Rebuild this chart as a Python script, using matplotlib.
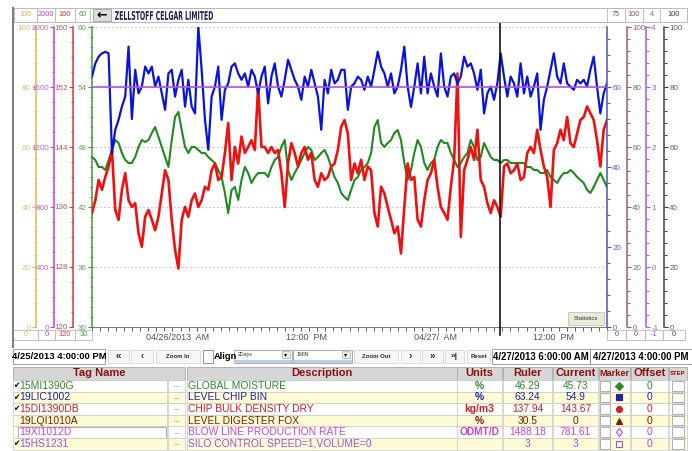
import numpy as np
import matplotlib.pyplot as plt
from matplotlib.patches import Rectangle, PathPatch
from matplotlib.lines import Line2D
from matplotlib.textpath import TextPath
from matplotlib.font_manager import FontProperties
from matplotlib.transforms import Affine2D, blended_transform_factory
from matplotlib.ticker import MultipleLocator, AutoMinorLocator

plt.rcParams['font.family'] = ['Liberation Sans', 'DejaVu Sans']
plt.rcParams['axes.unicode_minus'] = False


# Trend data, 4/25/2013 4:00 PM -> 4/27/2013 4:00 PM (hours from start)
global_moisture = [
    47.0, 46.7, 46.0, 46.0, 45.7, 46.7, 47.7, 48.7, 48.4, 47.4,
    46.7, 46.4, 46.4, 47.0, 48.0, 48.7, 48.5, 48.7, 49.4, 50.0,
    49.0, 48.0, 47.0, 46.0, 48.7, 51.0, 51.5, 49.7, 48.0, 47.4,
    48.0, 48.0, 47.7, 47.4, 47.4, 47.0, 46.7, 46.4, 45.7, 45.0,
    43.4, 41.4, 43.7, 44.0, 42.7, 44.7, 46.0, 45.4, 44.4, 45.0,
    45.4, 45.4, 45.4, 45.0, 46.0, 46.7, 47.0, 48.0, 48.7, 45.7,
    44.7, 45.4, 46.0, 46.7, 47.4, 48.0, 47.7, 46.7, 47.0, 47.4,
    47.7, 47.0, 46.0, 45.0, 44.4, 43.4,
    43.0, 42.7, 43.7, 44.7, 45.0, 45.7, 46.0, 46.4, 47.4, 50.0,
    50.7, 48.4, 48.0, 48.4, 48.7, 49.4, 49.7, 48.7, 46.4, 44.7,
    45.7, 47.4, 48.7, 48.0, 46.4, 45.7, 46.4, 46.7, 48.0, 48.7,
    48.4, 48.4, 47.4, 46.7, 46.0, 46.4, 47.0, 47.4, 48.7, 48.0,
    46.7, 47.0, 48.4, 47.7, 47.0, 46.7, 46.7, 46.4, 46.7, 46.7,
    46.4, 46.4, 46.4, 46.4, 46.4, 46.0, 46.0, 45.7, 45.7, 45.4,
    45.4, 45.7, 45.0, 44.7, 44.4, 45.0, 45.4, 45.4, 45.7, 45.4,
    45.0, 44.7, 44.4, 43.7, 43.4, 44.0, 44.7, 45.4, 44.7, 44.0,
]

chip_bin_level = [
    62.6, 65.9, 67.6, 68.4, 68.8, 68.4, 43.4, 49.3, 51.8, 55.1,
    57.6, 70.1, 52.0, 64.3, 58.4, 60.1, 65.1, 63.4, 65.1, 60.1,
    62.6, 58.4, 54.3, 63.4, 64.3, 57.6, 61.8, 64.3, 55.1, 61.8,
    55.1, 53.4, 75.1, 64.3, 51.8, 44.3, 57.6, 60.1, 65.1, 51.8,
    59.3, 60.9, 65.1, 65.9, 63.4, 61.8, 63.4, 60.1, 64.3, 62.6,
    58.4, 62.6, 65.1, 55.9, 62.6, 65.9, 60.1, 57.6, 61.8, 66.8,
    64.3, 61.8, 60.1, 56.8, 62.6, 60.1, 64.3, 60.9, 57.6, 49.3,
    61.8, 58.4, 64.3, 60.9, 61.8, 64.3,
    64.3, 54.3, 60.1, 60.9, 62.6, 61.8, 59.3, 62.6, 60.1, 64.3,
    68.8, 65.1, 63.4, 60.1, 63.4, 58.4, 60.1, 64.3, 70.1, 60.1,
    55.0, 60.1, 65.9, 58.4, 67.6, 58.4, 63.4, 60.1, 57.6, 68.4,
    60.1, 57.6, 62.6, 63.4, 60.9, 62.6, 67.6, 65.1, 65.9, 63.4,
    59.3, 64.3, 53.4, 58.4, 60.1, 56.8, 60.9, 68.4, 62.6, 57.6,
    62.6, 60.9, 57.6, 65.9, 58.4, 62.6, 57.6, 60.1, 63.4, 49.3,
    56.8, 60.1, 64.3, 68.4, 62.6, 60.9, 65.9, 60.9, 60.1, 59.3,
    61.8, 60.9, 61.8, 60.1, 64.3, 67.6, 60.1, 53.4, 58.4, 60.9,
]

bulk_density = [
    135.2, 136.9, 139.6, 138.3, 140.0, 141.4, 143.6, 135.6, 134.3, 138.3,
    140.5, 136.9, 136.0, 136.5, 132.5, 130.7, 134.7, 135.6, 134.3, 132.9,
    134.7, 137.8, 140.9, 139.6, 134.3, 130.3, 127.8, 134.3, 136.0, 134.7,
    136.9, 137.8, 136.0, 136.9, 138.7, 138.3, 140.9, 141.8, 139.6, 140.0,
    143.2, 147.2, 139.6, 144.0, 141.8, 145.4, 143.2, 144.0, 144.9, 143.6,
    152.0, 144.0, 144.0, 143.2, 144.0, 143.2, 143.6, 140.5, 136.0, 141.8,
    144.5, 143.2, 141.4, 143.2, 144.0, 142.3, 143.2, 139.6, 138.7, 140.5,
    139.6, 140.0, 141.4, 141.8, 143.6, 146.7,
    147.6, 145.8, 139.6, 141.8, 140.5, 142.3, 139.6, 141.4, 140.9, 135.2,
    133.4, 138.7, 137.8, 136.0, 134.3, 132.5, 133.4, 129.8, 136.0, 141.8,
    139.6, 140.0, 134.3, 133.4, 136.9, 139.6, 140.5, 142.3, 138.7, 136.0,
    135.2, 134.3, 138.7, 142.3, 153.8, 132.0, 140.9, 142.3, 144.0, 142.3,
    146.3, 139.6, 138.7, 136.5, 135.2, 136.9, 136.0, 134.7, 141.4, 141.8,
    140.5, 140.9, 141.8, 139.6, 140.0, 143.2, 144.0, 143.2, 146.3, 143.6,
    141.4, 140.0, 136.0, 143.6, 144.5, 146.3, 144.9, 148.0, 144.5, 144.0,
    145.8, 147.6, 148.0, 149.4, 148.5, 147.6, 144.9, 141.4, 146.3, 147.6,
]

silo_hours = [0, 48]
silo_speed = [3, 3]

ruler_hour = 38
time_labels = ["04/26/2013  AM", "12:00  PM", "04/27/  AM", "12:00  PM"]
time_label_hours = [8, 20, 32, 43]

# axis name, side, x pixel, min, max, major step, minor divisions, spine colour, label colour
axis_specs = [
    ("fox", "left", 36, 0, 100, 20, 5, "#e9b543", "#d8bd78"),
    ("blow", "left", 54, 0, 2000, 400, 4, "#d23cd2", "#c064d0"),
    ("density", "left", 73, 120, 160, 8, 4, "#d23a3a", "#a86060"),
    ("chipbin", "right", 607, 0, 75, 20, 5, "#4a55b5", "#5a64b8"),
    ("brown", "right", 627, 0, 100, 20, 5, "#9b6052", "#8a6a60"),
    ("silo", "right", 646, -1, 4, 1, 5, "#a659e6", "#9a60e0"),
    ("black", "right", 664, 0, 100, 20, 5, "#404040", "#606060"),
]
head_left = [("100", "#d9b25c"), ("2000", "#c040c0"), ("160", "#c04040"), ("60", "#4a9a4a")]
foot_left = [("0", "#d9b25c"), ("0", "#c040c0"), ("120", "#c04040"), ("30", "#4a9a4a")]
head_right = [("75", "#4a55b5"), ("100", "#8a5a50"), ("4", "#9a50e0"), ("100", "#404040")]
foot_right = [("0", "#4a55b5"), ("0", "#8a5a50"), ("-1", "#9a50e0"), ("0", "#404040")]

tags = ["15MI1390G", "19LIC1002", "15DI1390DB", "19LQI1010A", "19XI1012D", "15HS1231"]
descriptions = ["GLOBAL MOISTURE", "LEVEL CHIP BIN", "CHIP BULK DENSITY DRY",
                "LEVEL DIGESTER FOX", "BLOW LINE PRODUCTION RATE", "SILO CONTROL SPEED=1,VOLUME=0"]
units = ["%", "%", "kg/m3", "%", "ODMT/D", ""]
ruler_vals = ["46.29", "63.24", "137.94", "30.5", "1488.18", "3"]
current_vals = ["45.73", "54.9", "143.67", "0", "781.61", "3"]
checked = [True, True, True, False, False, True]
row_colors = ["#2a8a2a", "#2222a0", "#cc2222", "#7a2000", "#cc44cc", "#a050e0"]
row_markers = [("D", True), ("s", True), ("o", True), ("^", True), ("d", False), ("s", False)]


W, H = 692, 451
fig = plt.figure(figsize=(W / 100, H / 100), dpi=100)


def fx(x):
    return x / W


def fy(y):
    return 1 - y / H


def box(x0, y0, x1, y1, fc="white", ec="#b4b4b4", lw=0.6, z=2):
    r = Rectangle((fx(x0), fy(y1)), (x1 - x0) / W, (y1 - y0) / H, transform=fig.transFigure,
                  facecolor=fc, edgecolor=ec, linewidth=lw, zorder=z)
    fig.add_artist(r)
    return r


def txt(x, y, s, size=7, color="black", ha="center", weight="normal", **kw):
    return fig.text(fx(x), fy(y), s, fontsize=size, color=color, ha=ha, va="center",
                    fontweight=weight, zorder=4, **kw)


# main plot (green moisture axis)
ax = fig.add_axes([fx(92), fy(327), 515 / W, 300 / H])
ax.set_xlim(0, 48)
ax.set_ylim(30, 60)
ax.yaxis.set_major_locator(MultipleLocator(6))
ax.yaxis.set_minor_locator(AutoMinorLocator(6))
ax.yaxis.grid(True, color="#c8c8c8", linestyle=(0, (2, 2)), linewidth=0.7)
for s in ["top", "right"]:
    ax.spines[s].set_visible(False)
ax.spines["left"].set_color("#3c9a3c")
ax.spines["left"].set_linewidth(1.1)
ax.spines["bottom"].set_color("#606060")
ax.spines["bottom"].set_linewidth(0.6)
ax.tick_params(axis="y", which="major", direction="out", length=3, width=0.8, color="#3c9a3c",
               labelcolor="#6a9f6a", labelsize=5.8, pad=0.8)
ax.tick_params(axis="y", which="minor", direction="out", length=1.8, width=0.7, color="#3c9a3c")
ax.xaxis.set_major_locator(MultipleLocator(0.75))
ax.tick_params(axis="x", direction="out", length=3, width=0.6, color="#404040", labelbottom=False)

axes = {}
for name, side, px, lo, hi, step, nmin, sc, lc in axis_specs:
    tw = ax.twinx()
    tw.set_ylim(lo, hi)
    for s in ["top", "bottom", "left", "right"]:
        tw.spines[s].set_visible(False)
    tw.spines[side].set_visible(True)
    tw.spines[side].set_position(("axes", (px - 92) / 515))
    tw.spines[side].set_color(sc)
    tw.spines[side].set_linewidth(1.1)
    if side == "left":
        tw.yaxis.tick_left()
    else:
        tw.yaxis.tick_right()
    tw.yaxis.set_major_locator(MultipleLocator(step))
    tw.yaxis.set_minor_locator(AutoMinorLocator(nmin))
    tw.tick_params(axis="y", which="major", direction="out", length=3, width=0.8, color=sc,
                   labelcolor=lc, labelsize=5.8, pad=0.8)
    tw.tick_params(axis="y", which="minor", direction="out", length=1.8, width=0.7, color=sc)
    axes[name] = tw

t = np.linspace(0, 48, len(global_moisture))
ax.plot(t, global_moisture, color="#1f8a1f", lw=1.5)
axes["density"].plot(t, bulk_density, color="#f01010", lw=1.9)
axes["chipbin"].plot(t, chip_bin_level, color="#0a14d8", lw=1.6)
axes["silo"].plot(silo_hours, silo_speed, color="#b452e6", lw=1.2)
axes["black"].axvline(ruler_hour, ymin=-0.025, ymax=1.017, color="black", lw=1.1, clip_on=False)

tr = blended_transform_factory(ax.transData, fig.transFigure)
for s, h in zip(time_labels, time_label_hours):
    ax.text(h, fy(337), s, transform=tr, ha="center", va="center", fontsize=6.5, color="#505050")

# header strip
box(13, 8, 687, 22, ec="#a8a8a8")
for (s, c), (x0, x1) in zip(head_left, [(14, 37), (37, 55), (55, 75), (75, 90)]):
    box(x0, 8, x1, 22, ec="#b8b8b8")
    txt((x0 + x1) / 2, 15, s, size=5.3, color=c)
for (s, c), (x0, x1) in zip(head_right, [(607, 625), (625, 643), (643, 660), (660, 687)]):
    box(x0, 8, x1, 22, ec="#b8b8b8")
    txt((x0 + x1) / 2, 15, s, size=5.3, color=c)
box(93, 9, 111, 21, fc="#dcdcdc", ec="#a0a0a0")
txt(102, 14.5, "\u2190", size=9, weight="bold", family=["DejaVu Sans"])

fp = FontProperties(family="DejaVu Sans", weight="bold")
tp = TextPath((0, 0), "ZELLSTOFF CELGAR LIMITED", size=10, prop=fp)
bb = tp.get_extents()
title_tr = Affine2D().translate(-bb.x0, -bb.y0).scale(98 / bb.width, 9 / bb.height).translate(115, H - 20)
fig.add_artist(PathPatch(tp, transform=title_tr, facecolor="#1c1c4c", edgecolor="none", zorder=4))

# footer boxes under the axes
for (s, c), (x0, x1) in zip(foot_left, [(13, 38), (38, 55), (55, 75), (75, 92)]):
    box(x0, 330, x1, 340, ec="#b8b8b8")
    txt((x0 + x1) / 2, 335, s, size=5.3, color=c)
for (s, c), (x0, x1) in zip(foot_right, [(607, 626), (626, 645), (645, 663), (663, 685)]):
    box(x0, 330, x1, 340, ec="#b8b8b8")
    txt((x0 + x1) / 2, 335, s, size=5.3, color=c)

fig.add_artist(Line2D([fx(13), fx(13)], [fy(8), fy(347)], transform=fig.transFigure,
                      color="#808080", lw=1.5, zorder=3))

box(568, 312, 604, 325, fc="#ece9d8", ec="#c0c0c0", z=5)
fig.text(fx(586), fy(318.5), "Statistics", fontsize=4.3, color="#303030", ha="center", va="center", zorder=6)

# control row
box(13, 349, 105, 364, ec="#909090")
txt(59, 356.5, "4/25/2013 4:00:00 PM", size=6.8, weight="bold")
buttons = [(108, 129, "\u00ab", 7), (131, 153, "\u2039", 7), (156, 200, "Zoom In", 4.3),
           (354, 398, "Zoom Out", 4.3), (401, 420, "\u203a", 7), (422, 443, "\u00bb", 7),
           (445, 464, "\u00bb|", 6), (467, 490, "Reset", 4.3)]
for x0, x1, s, sz in buttons:
    box(x0, 350, x1, 363, fc="#f6f6f6", ec="#d4d4d4")
    txt((x0 + x1) / 2, 356.5, s, size=sz, weight="bold", color="#303030")
box(203, 350, 213, 363, ec="#808080")
txt(213.5, 356.5, "Align", size=6.7, weight="bold", ha="left")
for x0, x1, s in [(234, 292, "2Days"), (293, 352, "1MIN")]:
    box(x0, 350, x1, 363, ec="#a0a0a0")
    box(x0, 360, x1, 363, fc="#b8d0ea", ec="none")
    txt(x0 + 4, 354.5, s, size=3.8, ha="left", color="#303030")
    box(x1 - 10, 351, x1 - 2, 358, fc="#ececec", ec="#a0a0a0", lw=0.4)
    txt(x1 - 6, 354.5, "\u25be", size=4.5, family=["DejaVu Sans"])
box(492, 349, 590, 364, ec="#909090")
txt(541, 356.5, "4/27/2013 6:00:00 AM", size=6.9, weight="bold")
box(590, 349, 692, 364, ec="#909090")
txt(641, 356.5, "4/27/2013 4:00:00 PM", size=6.9, weight="bold")

# table header
cols = [(13, 185, "Tag Name", 8), (187, 457, "Description", 8), (457, 502, "Units", 8),
        (503, 552, "Ruler", 8), (553, 598, "Current", 8), (599, 630, "Marker", 6.6),
        (631, 668, "Offset", 8), (669, 687, "STEP", 4.3)]
for x0, x1, s, sz in cols:
    box(x0, 367, x1, 380, fc="#d6d6d6", ec="#a8a8a8")
    txt((x0 + x1) / 2, 373.5, s, size=sz, weight="bold", color="#8b1010")

# table rows
row_top = 380
row_h = 11.6
for i in range(len(tags)):
    y0 = row_top + i * row_h
    y1 = y0 + row_h
    yc = (y0 + y1) / 2
    bg = "white" if i % 2 == 0 else "#fffbd4"
    c = row_colors[i]
    box(13, y0, 167, y1, fc=bg, ec="#c8c8c8", lw=0.5)
    box(168, y0, 185, y1, fc=bg, ec="#c8c8c8", lw=0.5)
    for x0, x1, _, _ in cols[1:]:
        box(x0, y0, x1, y1, fc=bg, ec="#c8c8c8", lw=0.5)
    if i == 4:
        box(18, y0 + 0.5, 166, y1 - 0.5, fc="white", ec="#909090", lw=0.5)
    if checked[i]:
        txt(16, yc, "\u2714", size=5.5, family=["DejaVu Sans"])
    txt(19, yc, tags[i], size=7.5, color=c, ha="left")
    txt(176.5, yc, "...", size=6, color="#707070")
    txt(188, yc, descriptions[i], size=7.4, color=c, ha="left")
    txt(479.5, yc, units[i], size=7.4, color=c, weight="bold")
    txt(527.5, yc, ruler_vals[i], size=7.4, color=c)
    txt(575.5, yc, current_vals[i], size=7.4, color=c)
    box(600, y0 + 1, 610, y1 - 1, ec="#909090", lw=0.5)
    m, filled = row_markers[i]
    fig.add_artist(Line2D([fx(619)], [fy(yc)], transform=fig.transFigure, marker=m, markersize=4.3,
                          color=c, markerfacecolor=c if filled else "none", markeredgewidth=0.8,
                          linestyle="none", zorder=4))
    txt(649.5, yc, "0", size=7.4, color=c)
    box(672, y0 + 1, 684, y1 - 1, ec="#909090", lw=0.5)

fig.savefig("out.png", dpi=100)
